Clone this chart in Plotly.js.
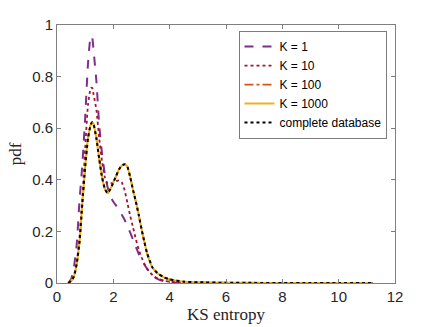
<!DOCTYPE html>
<html>
<head>
<meta charset="utf-8">
<script src="https://cdn.plot.ly/plotly-3.0.1.min.js"></script>
<style>
  html, body { margin: 0; padding: 0; background: #fff; }
  #chart { width: 436px; height: 327px; }
</style>
</head>
<body>
<div id="chart"></div>
<script>
// KS entropy pdf estimates
const xs = [0.4, 0.5, 0.6, 0.7, 0.8, 0.9, 1.0, 1.1, 1.2, 1.25, 1.3, 1.4, 1.5, 1.6, 1.7, 1.8, 1.9, 2.0, 2.1, 2.2, 2.3, 2.4, 2.5, 2.6, 2.7, 2.8, 2.9, 3.0, 3.1, 3.2, 3.4, 3.6, 3.8, 4.0, 4.5, 5, 6, 7, 8, 9, 10, 11.2];

const k1 = [0, 0.015, 0.06, 0.15, 0.32, 0.46, 0.64, 0.85, 0.957, 0.95, 0.9, 0.78, 0.61, 0.5, 0.42, 0.37, 0.335, 0.315, 0.3, 0.285, 0.265, 0.245, 0.22, 0.195, 0.168, 0.14, 0.113, 0.09, 0.072, 0.055, 0.028, 0.014, 0.007, 0.003, 0.001, 0, 0, 0, 0, 0, 0, 0];

const k10 = [0, 0.008, 0.028, 0.08, 0.18, 0.33, 0.52, 0.69, 0.755, 0.757, 0.73, 0.67, 0.56, 0.47, 0.41, 0.385, 0.385, 0.39, 0.395, 0.398, 0.39, 0.36, 0.31, 0.26, 0.215, 0.17, 0.13, 0.1, 0.075, 0.055, 0.03, 0.016, 0.009, 0.005, 0.002, 0.001, 0, 0, 0, 0, 0, 0];

const complete = [0, 0.008, 0.025, 0.075, 0.16, 0.31, 0.45, 0.56, 0.615, 0.623, 0.615, 0.56, 0.48, 0.41, 0.365, 0.348, 0.365, 0.39, 0.415, 0.44, 0.455, 0.46, 0.45, 0.41, 0.36, 0.315, 0.265, 0.21, 0.16, 0.115, 0.058, 0.035, 0.022, 0.014, 0.005, 0.003, 0.001, 0.0005, 0.0003, 0.0002, 0.0001, 0];

const k100 = complete;
const k1000 = complete;

const serif = "Liberation Serif, DejaVu Serif, serif";
const sans = "Liberation Sans, Arial, sans-serif";

function line(y, name, color, dash, width) {
    return {
        x: xs, y, name, type: "scatter", mode: "lines",
        line: { color, dash, width, shape: "spline", smoothing: 0.5 }
    };
}

const traces = [
    line(k1, "K = 1", "#7E2F8E", "dash", 2),
    line(k10, "K = 10", "#A2142F", "dot", 1.8),
    line(k100, "K = 100", "#D95319", "dashdot", 1.8),
    line(k1000, "K = 1000", "#EDB120", "solid", 2),
    line(complete, "complete database", "#000000", "dot", 2)
];

const axisBase = {
    showgrid: false, zeroline: false,
    showline: true, linecolor: "#7f7f7f", linewidth: 1,
    mirror: "allticks", ticks: "inside", ticklen: 4, tickcolor: "#7f7f7f",
    tickfont: { family: sans, size: 15, color: "#262626" }
};

Plotly.newPlot("chart", traces, {
    width: 436, height: 327,
    margin: { l: 57, r: 41, t: 25, b: 44 },
    paper_bgcolor: "#fff", plot_bgcolor: "#fff",
    xaxis: Object.assign({}, axisBase, {
        range: [0, 12], tickvals: [0, 2, 4, 6, 8, 10, 12],
        title: { text: "KS entropy", font: { family: serif, size: 17, color: "#262626" }, standoff: 2 }
    }),
    yaxis: Object.assign({}, axisBase, {
        range: [0, 1], tickvals: [0, 0.2, 0.4, 0.6, 0.8, 1],
        ticktext: ["0", "0.2", "0.4", "0.6", "0.8", "1"],
        title: { text: "pdf", font: { family: serif, size: 17, color: "#262626" }, standoff: 6 }
    }),
    legend: {
        x: 0.976, xanchor: "right", y: 0.975, yanchor: "top",
        bgcolor: "#fff", bordercolor: "#262626", borderwidth: 0.6,
        font: { family: sans, size: 12, color: "#000" },
        itemwidth: 30, tracegroupgap: 0
    },
    showlegend: true
}, { displayModeBar: false, staticPlot: true });
</script>
</body>
</html>
